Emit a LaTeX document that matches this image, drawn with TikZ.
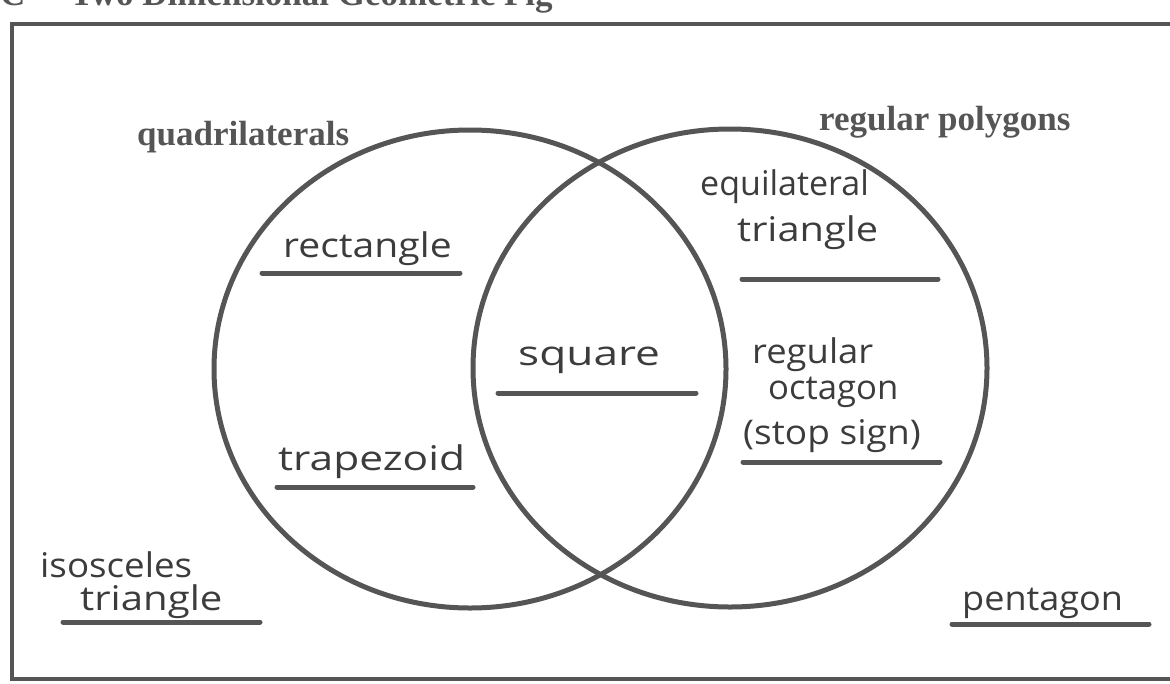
\documentclass[tikz,border=0pt]{standalone}
\usepackage{fontspec}
\setmainfont{Liberation Serif}
\newfontfamily\hand{Open Sans}
\definecolor{ink}{RGB}{85,85,85}
\definecolor{pen}{RGB}{60,60,60}
\newcommand\wideby[2]{\scalebox{#1}[1]{#2}}
\begin{document}
\begin{tikzpicture}[x=1pt,y=-1pt,
  frame/.style={draw=ink,line width=4.5pt},
  setring/.style={draw=ink,line width=5pt},
  blank/.style={draw=ink,line width=5pt,line cap=round},
  heading/.style={text=ink,font=\fontsize{35}{38}\selectfont\bfseries,inner sep=0pt,anchor=base west},
  answer/.style={text=pen,font=\hand\fontsize{34}{38}\selectfont,inner sep=0pt,anchor=base west}]
\useasboundingbox (0,0) rectangle (1170,683);
\clip (0,0) rectangle (1170,683);
\node[heading] (sec) at (0,5) {C};
\node[heading] (title) at (70,5) {Two Dimensional Geometric Fig};
\draw[frame] (12,24) rectangle (1200,679);
\coordinate (quadc) at (470,369);
\coordinate (regc) at (730,368);
\draw[setring] (quadc) ellipse [x radius=256pt, y radius=239pt];
\draw[setring] (regc) ellipse [x radius=257pt, y radius=239pt];
\node[heading] (quad) at (137,145) {quadrilaterals};
\node[heading] (reg) at (819,130) {regular polygons};
% answers
\node[answer] (rect) at (283,257) {\wideby{1.15}{rectangle}};
\draw[blank] (262,273) -- (460,273);
\node[answer] (trap) at (278,470) {\wideby{1.25}{trapezoid}};
\draw[blank] (277,487) -- (473,487);
\node[answer] (sq) at (518,365) {\wideby{1.3}{square}};
\draw[blank] (498,393) -- (696,393);
\node[answer] (eq1) at (700,195) {\wideby{1.0}{equilateral}};
\node[answer] (eq2) at (737,241) {\wideby{1.17}{triangle}};
\draw[blank] (742,279) -- (938,279);
\node[answer] (oc1) at (752,363) {\wideby{1.07}{regular}};
\node[answer] (oc2) at (768,399) {\wideby{1.02}{octagon}};
\node[answer] (oc3) at (743,444) {\wideby{1.09}{(stop sign)}};
\draw[blank] (743,462) -- (940,462);
\node[answer] (is1) at (40,577) {\wideby{1.08}{isosceles}};
\node[answer] (is2) at (80,610) {\wideby{1.18}{triangle}};
\draw[blank] (63,622) -- (260,622);
\node[answer] (pent) at (962,610) {\wideby{1.06}{pentagon}};
\draw[blank] (952,624) -- (1149,624);
\end{tikzpicture}
\end{document}
